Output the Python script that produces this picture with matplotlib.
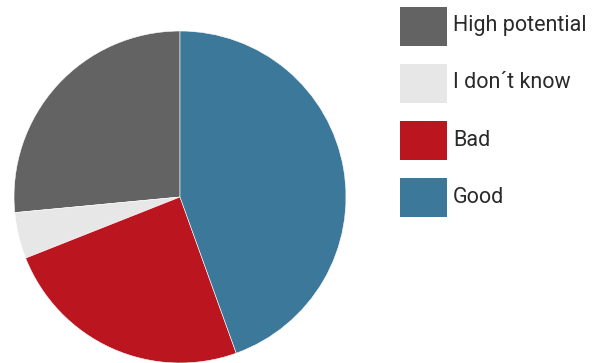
import matplotlib.pyplot as plt
from matplotlib.patches import Rectangle

labels = ["High potential", "I don\u00b4t know", "Bad", "Good"]
values = [26.5, 4.5, 24.5, 44.5]
colors = ["#636363", "#e7e7e7", "#bb1520", "#3c789a"]

fig = plt.figure(figsize=(6.01, 3.63), dpi=100)

# pie, starts at 12 o'clock, counter clockwise
ax = fig.add_axes([14 / 601, 0, 332 / 601, 332 / 363])
ax.pie(values, colors=colors, startangle=90, counterclock=True, radius=1,
       wedgeprops={"edgecolor": "white", "linewidth": 0.4})
ax.set_xlim(-1, 1)
ax.set_ylim(-1, 1)
ax.set_aspect("equal")
ax.axis("off")

# legend at the right
W, H = 601, 363
for i, (lab, col) in enumerate(zip(labels, colors)):
    top = 7 + i * 57
    fig.patches.append(Rectangle((400 / W, 1 - (top + 39) / H), 47 / W, 39 / H,
                                 transform=fig.transFigure, facecolor=col,
                                 edgecolor="none"))
    fig.text(453 / W, 1 - (top + 19) / H, lab, fontsize=15.5, color="#2a2a2a",
             family="Roboto", va="center", ha="left")

fig.savefig("out.png", dpi=100)
